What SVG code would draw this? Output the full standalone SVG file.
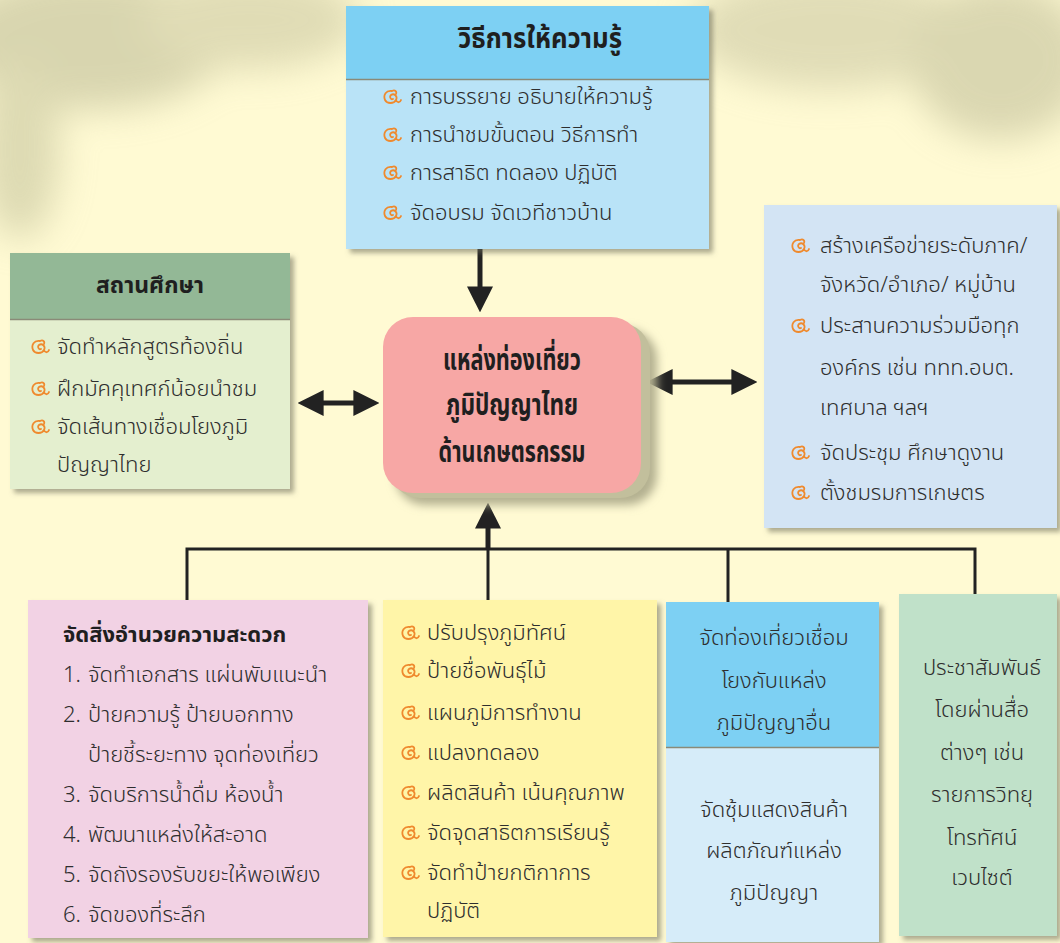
<svg xmlns="http://www.w3.org/2000/svg" width="1060" height="943" viewBox="0 0 1060 943">
<defs>
<style>
.t{font-family:"Noto Sans Thai","Noto Sans",sans-serif;font-size:22px;font-weight:300;fill:#2e2e2e}
.h{font-family:"Noto Sans Thai","Noto Sans",sans-serif;font-weight:bold;fill:#1f1f1f}
.c{text-anchor:middle}
.ln{stroke:#222;stroke-width:3;fill:none}
.ar{stroke:#222;stroke-width:5;fill:none}
</style>
<filter id="sh" x="-10%" y="-10%" width="130%" height="130%">
<feDropShadow dx="4" dy="4" stdDeviation="2.5" flood-color="#6b6b55" flood-opacity="0.55"/>
</filter>
<filter id="bl" x="-50%" y="-50%" width="200%" height="200%"><feGaussianBlur stdDeviation="18"/></filter>
<filter id="bl2"><feGaussianBlur stdDeviation="5"/></filter>
<symbol id="bu" viewBox="0 0 20 18">
<path d="M10 3 C4 2 1 7 3 12 C5 16 12 16 14 12 C16 8 12 5 9 7 C7 9 9 12 11 11 M14 12 C15 15 18 15 19 12 M10 3 C13 1.5 15 3.5 14 6" fill="none" stroke="#ef8a2e" stroke-width="1.8" stroke-linecap="round"/>
</symbol>
<marker id="ah" viewBox="0 0 10 10" refX="6" refY="5" markerUnits="userSpaceOnUse" markerWidth="26" markerHeight="30" orient="auto-start-reverse">
<path d="M0 0 L10 5 L0 10 Z" fill="#222"/>
</marker>
</defs>
<rect width="1060" height="943" fill="#fffad3"/>
<g filter="url(#bl)" opacity="0.55">
<ellipse cx="90" cy="40" rx="140" ry="70" fill="#b9b893"/>
<ellipse cx="250" cy="20" rx="110" ry="50" fill="#c7c49e"/>
<ellipse cx="20" cy="150" rx="40" ry="90" fill="#c2c19a"/>
<ellipse cx="830" cy="30" rx="140" ry="60" fill="#c8c5a0"/>
<ellipse cx="1000" cy="60" rx="90" ry="80" fill="#bdbb96"/>
</g>

<g id="connectors">
<line class="ar" x1="480" y1="249" x2="480" y2="302" marker-end="url(#ah)"/>
<line class="ar" x1="308" y1="403" x2="369" y2="403" marker-start="url(#ah)" marker-end="url(#ah)"/>
<line class="ar" x1="657" y1="382" x2="747" y2="382" marker-start="url(#ah)" marker-end="url(#ah)"/>
<line class="ar" x1="488" y1="549" x2="488" y2="513" marker-end="url(#ah)"/>
<path class="ln" d="M187 600 V549 H975 V595 M488 549 V600 M728 549 V602"/>
</g>

<g id="node-methods">
<g filter="url(#sh)">
<rect x="346" y="6" width="363" height="243" fill="#b9e3f7"/>
<rect x="346" y="6" width="363" height="73" fill="#7dd0f3"/>
<line x1="346" y1="79.5" x2="709" y2="79.5" stroke="#8a8a78" stroke-width="1.5"/>
</g>
<text class="h c" x="540" y="48" font-size="29" textLength="164" lengthAdjust="spacingAndGlyphs">วิธีการให้ความรู้</text>
<use href="#bu" x="382" y="88" width="20" height="18"/>
<text class="t" x="410" y="104">การบรรยาย อธิบายให้ความรู้</text>
<use href="#bu" x="382" y="126" width="20" height="18"/>
<text class="t" x="410" y="142">การนำชมขั้นตอน วิธีการทำ</text>
<use href="#bu" x="382" y="164" width="20" height="18"/>
<text class="t" x="410" y="180">การสาธิต ทดลอง ปฏิบัติ</text>
<use href="#bu" x="382" y="204" width="20" height="18"/>
<text class="t" x="410" y="220">จัดอบรม จัดเวทีชาวบ้าน</text>
</g>

<g id="node-school">
<g filter="url(#sh)">
<rect x="10" y="253" width="280" height="236" fill="#e4efcf"/>
<rect x="10" y="253" width="280" height="66" fill="#93b896"/>
<line x1="10" y1="319.5" x2="290" y2="319.5" stroke="#8a8a78" stroke-width="1.5"/>
</g>
<text class="h c" x="150" y="293" font-size="23">สถานศึกษา</text>
<use href="#bu" x="30" y="338" width="20" height="18"/>
<text class="t" x="57" y="354">จัดทำหลักสูตรท้องถิ่น</text>
<use href="#bu" x="30" y="380" width="20" height="18"/>
<text class="t" x="57" y="396">ฝึกมัคคุเทศก์น้อยนำชม</text>
<use href="#bu" x="30" y="418" width="20" height="18"/>
<text class="t" x="57" y="434">จัดเส้นทางเชื่อมโยงภูมิ</text>
<text class="t" x="57" y="472">ปัญญาไทย</text>
</g>

<g id="node-center">
<rect x="395" y="329" width="262" height="176" rx="30" fill="#b3b090" filter="url(#bl2)"/>
<rect x="390" y="323" width="260" height="175" rx="30" fill="#c2bf9c"/>
<rect x="383" y="317" width="258" height="176" rx="30" fill="#f7a7a5"/>
<text class="h c" x="512" y="370" font-size="30" textLength="138" lengthAdjust="spacingAndGlyphs">แหล่งท่องเที่ยว</text>
<text class="h c" x="512" y="415" font-size="30" textLength="132" lengthAdjust="spacingAndGlyphs">ภูมิปัญญาไทย</text>
<text class="h c" x="512" y="462" font-size="30" textLength="147" lengthAdjust="spacingAndGlyphs">ด้านเกษตรกรรม</text>
</g>

<g id="node-network">
<rect x="764" y="205" width="293" height="323" fill="#d3e4f4" filter="url(#sh)"/>
<use href="#bu" x="790" y="237" width="20" height="18"/>
<text class="t" x="820" y="253">สร้างเครือข่ายระดับภาค/</text>
<text class="t" x="820" y="292">จังหวัด/อำเภอ/ หมู่บ้าน</text>
<use href="#bu" x="790" y="317" width="20" height="18"/>
<text class="t" x="820" y="333">ประสานความร่วมมือทุก</text>
<text class="t" x="820" y="375">องค์กร เช่น ททท.อบต.</text>
<text class="t" x="820" y="415">เทศบาล ฯลฯ</text>
<use href="#bu" x="790" y="444" width="20" height="18"/>
<text class="t" x="820" y="460">จัดประชุม ศึกษาดูงาน</text>
<use href="#bu" x="790" y="484" width="20" height="18"/>
<text class="t" x="820" y="500">ตั้งชมรมการเกษตร</text>
</g>

<g id="node-facilities">
<rect x="28" y="600" width="340" height="338" fill="#f2d2e4" filter="url(#sh)"/>
<text class="h" x="63" y="642" font-size="22">จัดสิ่งอำนวยความสะดวก</text>
<text class="t" x="63" y="682">1.</text><text class="t" x="88" y="682">จัดทำเอกสาร แผ่นพับแนะนำ</text>
<text class="t" x="63" y="722">2.</text><text class="t" x="88" y="722">ป้ายความรู้  ป้ายบอกทาง</text>
<text class="t" x="88" y="762">ป้ายชี้ระยะทาง จุดท่องเที่ยว</text>
<text class="t" x="63" y="802">3.</text><text class="t" x="88" y="802">จัดบริการน้ำดื่ม ห้องน้ำ</text>
<text class="t" x="63" y="842">4.</text><text class="t" x="88" y="842">พัฒนาแหล่งให้สะอาด</text>
<text class="t" x="63" y="882">5.</text><text class="t" x="88" y="882">จัดถังรองรับขยะให้พอเพียง</text>
<text class="t" x="63" y="922">6.</text><text class="t" x="88" y="922">จัดของที่ระลึก</text>
</g>

<g id="node-improve">
<rect x="383" y="600" width="274" height="337" fill="#fff5a8" filter="url(#sh)"/>
<use href="#bu" x="400" y="624" width="20" height="18"/>
<text class="t" x="427" y="640">ปรับปรุงภูมิทัศน์</text>
<use href="#bu" x="400" y="662" width="20" height="18"/>
<text class="t" x="427" y="678">ป้ายชื่อพันธุ์ไม้</text>
<use href="#bu" x="400" y="704" width="20" height="18"/>
<text class="t" x="427" y="720">แผนภูมิการทำงาน</text>
<use href="#bu" x="400" y="744" width="20" height="18"/>
<text class="t" x="427" y="760">แปลงทดลอง</text>
<use href="#bu" x="400" y="784" width="20" height="18"/>
<text class="t" x="427" y="800">ผลิตสินค้า เน้นคุณภาพ</text>
<use href="#bu" x="400" y="824" width="20" height="18"/>
<text class="t" x="427" y="840">จัดจุดสาธิตการเรียนรู้</text>
<use href="#bu" x="400" y="864" width="20" height="18"/>
<text class="t" x="427" y="880">จัดทำป้ายกติกาการ</text>
<text class="t" x="427" y="918">ปฏิบัติ</text>
</g>

<g id="node-tour">
<g filter="url(#sh)">
<rect x="666" y="602" width="213" height="340" fill="#d6ecf9"/>
<rect x="666" y="602" width="213" height="145" fill="#7dd0f3"/>
<line x1="666" y1="747.5" x2="879" y2="747.5" stroke="#8a8a78" stroke-width="1.5"/>
</g>
<text class="t c" x="774" y="645">จัดท่องเที่ยวเชื่อม</text>
<text class="t c" x="774" y="688">โยงกับแหล่ง</text>
<text class="t c" x="774" y="730">ภูมิปัญญาอื่น</text>
<text class="t c" x="774" y="817">จัดซุ้มแสดงสินค้า</text>
<text class="t c" x="774" y="858">ผลิตภัณฑ์แหล่ง</text>
<text class="t c" x="774" y="900">ภูมิปัญญา</text>
</g>

<g id="node-pr">
<rect x="899" y="594" width="158" height="342" fill="#c0e1c9" filter="url(#sh)"/>
<text class="t c" x="982" y="675">ประชาสัมพันธ์</text>
<text class="t c" x="982" y="717">โดยผ่านสื่อ</text>
<text class="t c" x="982" y="760">ต่างๆ เช่น</text>
<text class="t c" x="982" y="802">รายการวิทยุ</text>
<text class="t c" x="982" y="845">โทรทัศน์</text>
<text class="t c" x="982" y="885">เวบไซต์</text>
</g>
</svg>
